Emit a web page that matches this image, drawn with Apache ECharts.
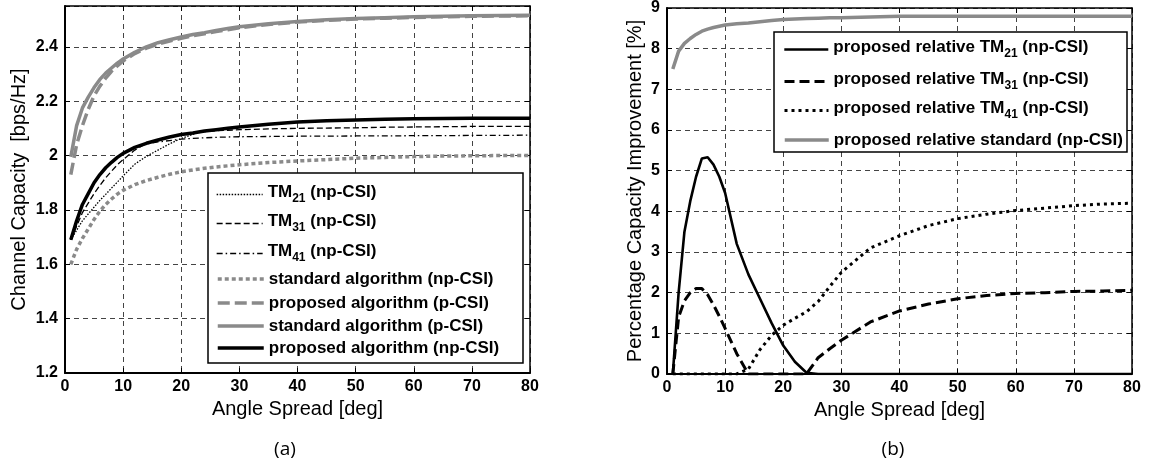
<!DOCTYPE html>
<html>
<head>
<meta charset="utf-8">
<script src="https://cdn.jsdelivr.net/npm/echarts@6/dist/echarts.min.js"></script>
<style>
  html, body { margin: 0; padding: 0; background: #fff; }
  #chart { width: 1157px; height: 465px; }
</style>
</head>
<body>
<div id="chart"></div>
<script>
// Angle spread samples [deg], shared by both panels
const angleSpread = [1,2,3,4,5,6,7,8,9,10,12,14,16,18,20,22,24,26,28,30,35,40,45,50,55,60,65,70,75,80];

// Panel (a): channel capacity [bps/Hz]
const capTM21   = [1.690,1.725,1.760,1.785,1.810,1.835,1.857,1.880,1.902,1.925,1.968,1.997,2.020,2.043,2.063,2.078,2.090,2.095,2.100,2.105,2.115,2.123,2.128,2.131,2.133,2.135,2.136,2.137,2.137,2.137];
const capTM31   = [1.690,1.740,1.790,1.825,1.860,1.890,1.918,1.942,1.966,1.985,2.020,2.045,2.057,2.068,2.077,2.083,2.088,2.091,2.093,2.095,2.098,2.100,2.101,2.102,2.104,2.105,2.106,2.107,2.107,2.107];
const capTM41   = [1.690,1.760,1.820,1.860,1.900,1.930,1.955,1.975,1.993,2.008,2.030,2.043,2.050,2.055,2.060,2.063,2.065,2.067,2.068,2.069,2.070,2.071,2.071,2.072,2.072,2.073,2.073,2.074,2.074,2.075];
const capStdNp  = [1.600,1.655,1.695,1.730,1.765,1.795,1.820,1.840,1.858,1.872,1.893,1.908,1.920,1.931,1.940,1.947,1.953,1.958,1.962,1.966,1.974,1.980,1.985,1.990,1.993,1.996,1.998,1.999,2.000,2.000];
const capPropP  = [1.930,2.040,2.110,2.170,2.220,2.255,2.285,2.310,2.330,2.348,2.375,2.395,2.410,2.421,2.431,2.441,2.448,2.456,2.463,2.470,2.482,2.491,2.497,2.502,2.505,2.508,2.510,2.512,2.513,2.514];
const capStdP   = [1.995,2.110,2.175,2.215,2.250,2.280,2.303,2.322,2.340,2.355,2.380,2.400,2.415,2.426,2.436,2.445,2.452,2.460,2.467,2.474,2.485,2.493,2.499,2.504,2.507,2.510,2.512,2.514,2.515,2.516];
const capPropNp = [1.690,1.760,1.820,1.860,1.900,1.930,1.955,1.975,1.993,2.008,2.030,2.045,2.057,2.068,2.077,2.083,2.090,2.095,2.100,2.105,2.115,2.123,2.128,2.131,2.133,2.135,2.136,2.137,2.137,2.137];

// Panel (b): percentage capacity improvement [%]
const relTM21 = [0,2.0,3.5,4.25,4.85,5.3,5.33,5.15,4.85,4.45,3.2,2.45,1.85,1.25,0.7,0.3,0.03,0,0,0,0,0,0,0,0,0,0,0,0,0];
const relTM31 = [0,1.4,1.8,2.0,2.1,2.1,1.95,1.7,1.42,1.12,0.5,0,0,0,0,0,0,0.4,0.62,0.83,1.28,1.55,1.72,1.85,1.93,1.98,2.0,2.03,2.04,2.06];
const relTM41 = [0,0,0,0,0,0,0,0,0,0,0,0.12,0.6,0.95,1.2,1.37,1.53,1.78,2.15,2.5,3.1,3.4,3.65,3.82,3.93,4.02,4.08,4.14,4.18,4.2];
const relStd  = [7.5,7.94,8.13,8.25,8.35,8.43,8.48,8.52,8.55,8.58,8.61,8.63,8.66,8.69,8.72,8.73,8.74,8.75,8.76,8.76,8.78,8.8,8.8,8.8,8.8,8.8,8.8,8.8,8.8,8.8];

// Axis ticks
const xTicks = { min: 0, max: 80, interval: 10 };
const yTicksA = { min: 1.2, max: 2.55, interval: 0.2 };
const yTicksB = { min: 0, max: 9, interval: 1 };

const GRAY = '#8a8a8a';
const FONT = '"Liberation Sans", Arial, sans-serif';

const pairs = ys => angleSpread.map((x, i) => [x, ys[i]]);

// Line styles, keyed by series name (used by both the series and the legend rows)
const styles = {};
function lineSeries(name, ys, gi, color, width, type) {
  styles[name] = { color: color, width: width, type: type };
  return {
    type: 'line', name: name, data: pairs(ys),
    xAxisIndex: gi * 2, yAxisIndex: gi * 2,
    symbol: 'none', smooth: false, animation: false,
    lineStyle: { color: color, width: width, type: type },
    itemStyle: { color: color }
  };
}

const gridLine = { show: true, lineStyle: { color: '#444', width: 1, type: [5, 4] } };

function mainX(gi) {
  return {
    type: 'value', gridIndex: gi, position: 'bottom',
    min: xTicks.min, max: xTicks.max, interval: xTicks.interval,
    axisLine: { show: true, onZero: false, lineStyle: { color: '#000', width: 2 } },
    axisTick: { show: true, inside: true, length: 5, lineStyle: { color: '#000', width: 1 } },
    axisLabel: { color: '#000', fontFamily: FONT, fontWeight: 'bold', fontSize: 16, margin: 6 },
    splitLine: gridLine,
    name: 'Angle Spread [deg]', nameLocation: 'middle', nameGap: 25,
    nameTextStyle: { color: '#000', fontFamily: FONT, fontSize: 20 }
  };
}
function topX(gi) {
  return {
    type: 'value', gridIndex: gi, position: 'top',
    min: xTicks.min, max: xTicks.max, interval: xTicks.interval,
    axisLine: { show: true, onZero: false, lineStyle: { color: '#000', width: 1.5 } },
    axisTick: { show: true, inside: true, length: 5, lineStyle: { color: '#000', width: 1 } },
    axisLabel: { show: false }, splitLine: { show: false }
  };
}
function mainY(gi, t, name, gap, fmt) {
  return {
    type: 'value', gridIndex: gi, position: 'left',
    min: t.min, max: t.max, interval: t.interval,
    axisLine: { show: true, onZero: false, lineStyle: { color: '#000', width: 2 } },
    axisTick: { show: true, inside: true, length: 5, lineStyle: { color: '#000', width: 1 } },
    axisLabel: { color: '#000', fontFamily: FONT, fontWeight: 'bold', fontSize: 16, margin: 7, formatter: fmt },
    splitLine: gridLine,
    name: name, nameLocation: 'middle', nameGap: gap, nameRotate: 90,
    nameTextStyle: { color: '#000', fontFamily: FONT, fontSize: 20 }
  };
}
function rightY(gi, t) {
  return {
    type: 'value', gridIndex: gi, position: 'right',
    min: t.min, max: t.max, interval: t.interval,
    axisLine: { show: true, onZero: false, lineStyle: { color: '#000', width: 1.5 } },
    axisTick: { show: true, inside: true, length: 5, lineStyle: { color: '#000', width: 1 } },
    axisLabel: { show: false }, splitLine: { show: false }
  };
}

const fmtA = v => (Math.abs(v * 5 - Math.round(v * 5)) > 1e-6) ? '' : String(Math.round(v * 10) / 10);
const fmtB = v => String(Math.round(v));

// Legend text: TM subscripts drawn as rich text, lowered under a tall strut
function richName(name) {
  const m = name.match(/^(.*TM)(\d+)(.*)$/);
  if (!m) return '{m|' + name + '}';
  return '{h| }{m|' + m[1] + '}{s|' + m[2] + '}{m|' + m[3] + '}';
}
const legendRich = {
  h: { fontSize: 4, lineHeight: 21, width: 0 },
  m: { fontFamily: FONT, fontWeight: 'bold', fontSize: 17, color: '#000', lineHeight: 16, verticalAlign: 'top' },
  s: { fontFamily: FONT, fontWeight: 'bold', fontSize: 12, color: '#000', lineHeight: 12, verticalAlign: 'bottom' }
};
function legendRow(name, left, top, w) {
  const st = styles[name];
  return {
    data: [name], left: left, top: top, orient: 'vertical', padding: 0,
    itemWidth: w, itemHeight: 14, itemGap: 0, selectedMode: false, z: 10,
    formatter: richName,
    itemStyle: { color: 'rgba(0,0,0,0)', borderColor: 'rgba(0,0,0,0)', borderWidth: 0 },
    lineStyle: { color: st.color, width: st.width, type: st.type },
    textStyle: { rich: legendRich }
  };
}

const nTM21 = 'TM21 (np-CSI)', nTM31 = 'TM31 (np-CSI)', nTM41 = 'TM41 (np-CSI)';
const nStdNp = 'standard algorithm (np-CSI)', nPropP = 'proposed algorithm (p-CSI)';
const nStdP = 'standard algorithm (p-CSI)', nPropNp = 'proposed algorithm (np-CSI)';
const nR21 = 'proposed relative TM21 (np-CSI)', nR31 = 'proposed relative TM31 (np-CSI)';
const nR41 = 'proposed relative TM41 (np-CSI)', nRStd = 'proposed relative standard (np-CSI)';

const series = [
  lineSeries(nTM21, capTM21, 0, '#000', 1.3, [1.5, 1.5]),
  lineSeries(nTM31, capTM31, 0, '#000', 1.3, [6, 3]),
  lineSeries(nTM41, capTM41, 0, '#000', 1.3, [6, 3, 1.5, 3]),
  lineSeries(nStdNp, capStdNp, 0, GRAY, 3.5, [4, 3]),
  lineSeries(nPropP, capPropP, 0, GRAY, 3.5, [12, 5]),
  lineSeries(nStdP, capStdP, 0, GRAY, 3.5, 'solid'),
  lineSeries(nPropNp, capPropNp, 0, '#000', 3.5, 'solid'),
  lineSeries(nR21, relTM21, 1, '#000', 2.6, 'solid'),
  lineSeries(nR31, relTM31, 1, '#000', 3, [10, 5]),
  lineSeries(nR41, relTM41, 1, '#000', 3, [3, 4]),
  lineSeries(nRStd, relStd, 1, GRAY, 3.5, 'solid')
];

const option = {
  backgroundColor: '#fff',
  animation: false,
  grid: [
    { left: 65, right: 627, top: 6, bottom: 92, containLabel: false },
    { left: 667, right: 25, top: 7, bottom: 91, containLabel: false }
  ],
  xAxis: [mainX(0), topX(0), mainX(1), topX(1)],
  yAxis: [
    mainY(0, yTicksA, 'Channel Capacity  [bps/Hz]', 36, fmtA), rightY(0, yTicksA),
    mainY(1, yTicksB, 'Percentage Capacity Improvement [%]', 22, fmtB), rightY(1, yTicksB)
  ],
  legend: [
    legendRow(nTM21, 216, 184, 46),
    legendRow(nTM31, 216, 213, 46),
    legendRow(nTM41, 216, 243, 46),
    legendRow(nStdNp, 216, 271, 46),
    legendRow(nPropP, 216, 295, 46),
    legendRow(nStdP, 216, 318, 46),
    legendRow(nPropNp, 216, 340, 46),
    legendRow(nR21, 783, 39, 44),
    legendRow(nR31, 783, 71, 44),
    legendRow(nR41, 783, 100, 44),
    legendRow(nRStd, 783, 132, 44)
  ],
  series: series,
  graphic: [
    { type: 'rect', z: 5, shape: { x: 208, y: 173, width: 315, height: 190 },
      style: { fill: '#fff', stroke: '#000', lineWidth: 1.5 } },
    { type: 'rect', z: 5, shape: { x: 774, y: 32, width: 353, height: 120 },
      style: { fill: '#fff', stroke: '#000', lineWidth: 1.5 } },
    { type: 'text', z: 5, x: 285, y: 450,
      style: { text: '(a)', fill: '#000', font: '19px "Open Sans", sans-serif', textAlign: 'center', textVerticalAlign: 'middle' } },
    { type: 'text', z: 5, x: 893, y: 450,
      style: { text: '(b)', fill: '#000', font: '19px "Open Sans", sans-serif', textAlign: 'center', textVerticalAlign: 'middle' } }
  ]
};

const chart = echarts.init(document.getElementById('chart'), null, { renderer: 'canvas' });
chart.setOption(option);
</script>
</body>
</html>
